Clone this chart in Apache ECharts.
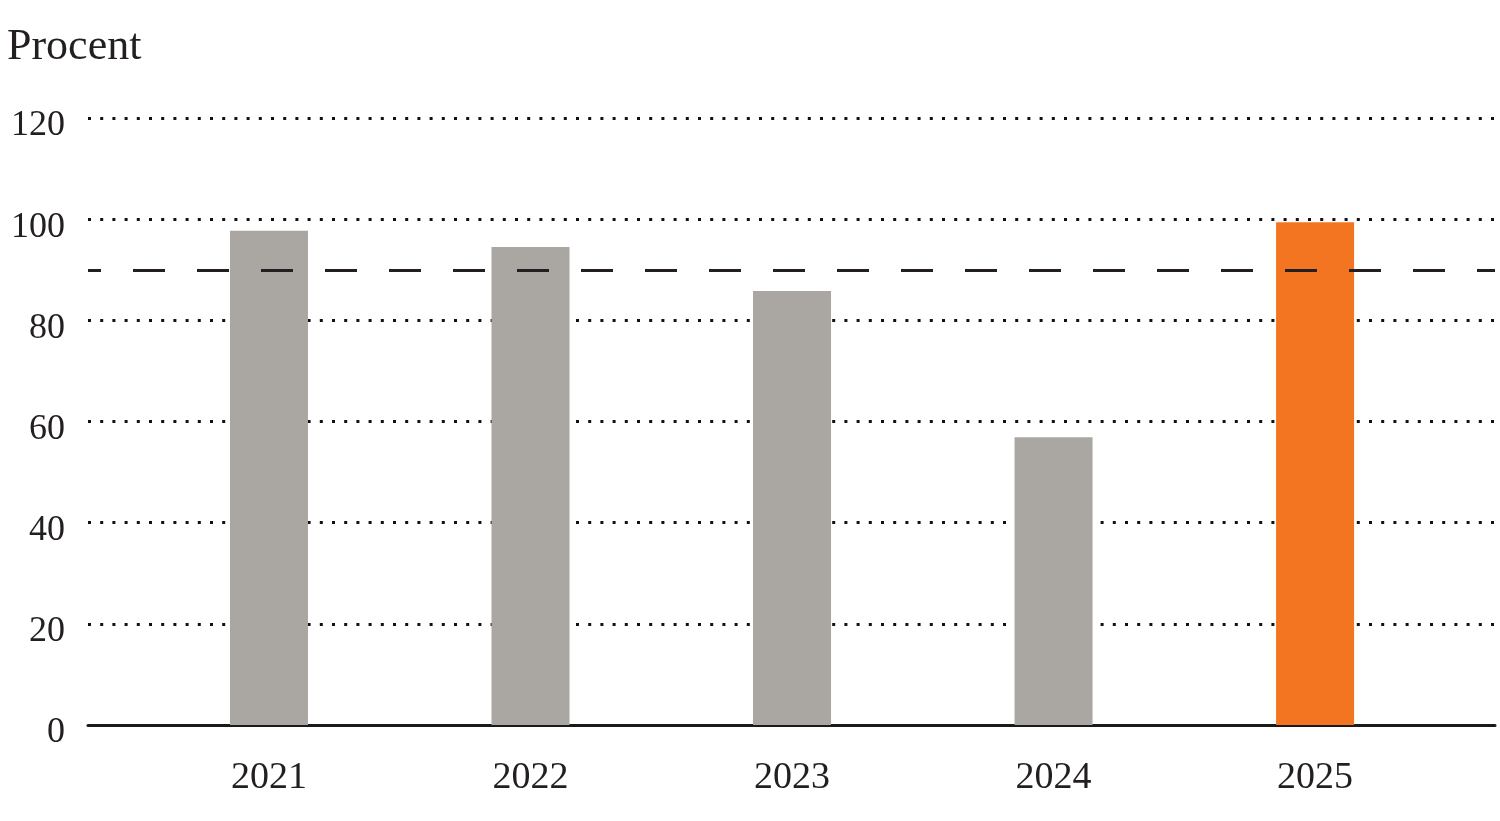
<!DOCTYPE html>
<html>
<head>
<meta charset="utf-8">
<script src="https://cdn.jsdelivr.net/npm/echarts@6/dist/echarts.min.js"></script>
<style>html,body{margin:0;padding:0;background:#fff}#c{width:1500px;height:821px}</style>
</head>
<body>
<div id="c"></div>
<script>
const years = [2021, 2022, 2023, 2024, 2025];
const values = [97.7, 94.5, 85.8, 56.9, 99.4];
const targetLine = 90;
const yTicks = [0, 20, 40, 60, 80, 100, 120];
const highlightYear = 2025;

const FONT = '"Liberation Serif", "DejaVu Serif", serif';
const TEXT = '#231f20';

const chart = echarts.init(document.getElementById('c'), null, {renderer: 'canvas'});
chart.setOption({
  animation: false,
  backgroundColor: '#ffffff',
  title: {
    text: 'Procent', left: 2, top: 20,
    textStyle: {fontFamily: FONT, fontSize: 44, fontWeight: 'normal', color: TEXT}
  },
  grid: {left: 88, right: 5, top: 118, bottom: 96, containLabel: false},
  xAxis: {
    type: 'value', min: 2020.308, max: 2025.688,
    splitLine: {show: false},
    axisTick: {show: false},
    axisLine: {show: true, lineStyle: {color: '#1a1a1a', width: 3}},
    axisLabel: {
      customValues: years, margin: 34,
      fontFamily: FONT, fontSize: 38, color: TEXT,
      formatter: v => String(v)
    }
  },
  yAxis: {
    type: 'value', min: 0, max: 120, interval: 20,
    axisLine: {show: false}, axisTick: {show: false},
    axisLabel: {
      margin: 23, color: TEXT,
      formatter: v => '{a|' + v + '}',
      rich: {a: {fontFamily: FONT, fontSize: 36, color: TEXT, padding: [16, 0, 0, 0]}}
    },
    splitLine: {
      show: true,
      lineStyle: {color: '#111', width: 3, type: [3, 9.2]}
    }
  },
  series: [{
    type: 'bar',
    barWidth: 78,
    data: years.map((y, i) => ({
      value: [y, values[i]],
      itemStyle: {color: y === highlightYear ? '#f37421' : '#aaa7a2'}
    })),
    markLine: {
      silent: true, symbol: 'none',
      label: {show: false},
      lineStyle: {color: '#231f20', width: 3, type: [32, 32], dashOffset: 19, opacity: 1},
      data: [{yAxis: targetLine}]
    }
  }]
});
</script>
</body>
</html>
